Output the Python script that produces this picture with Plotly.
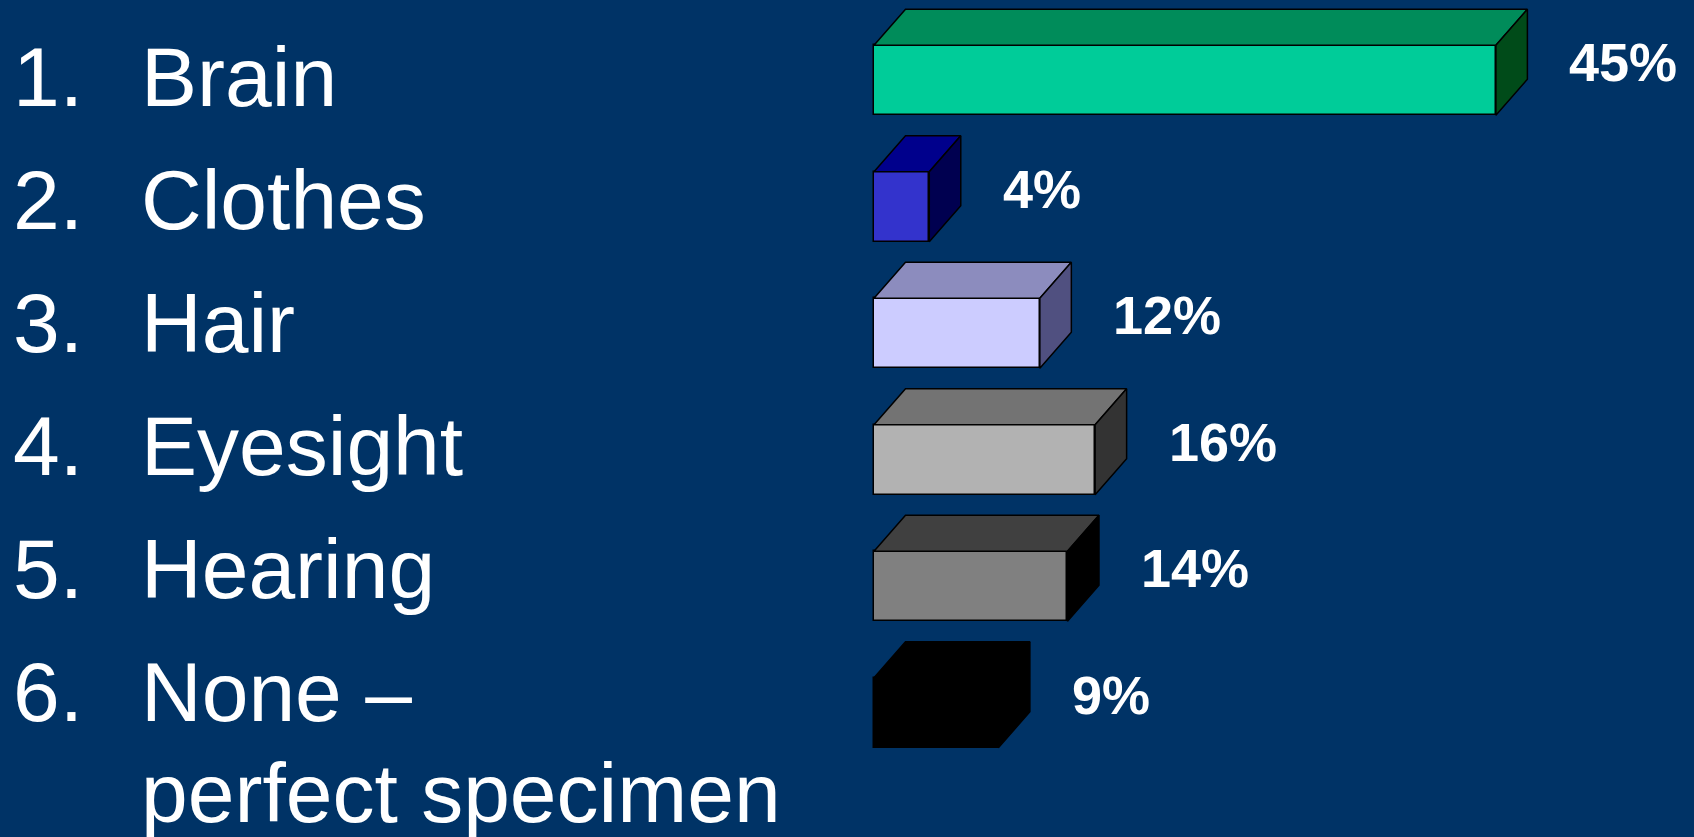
import plotly.graph_objects as go

# ---- data ----
numbers = ["1.", "2.", "3.", "4.", "5.", "6."]
categories = ["Brain", "Clothes", "Hair", "Eyesight", "Hearing", "None –"]
category_continuation = "perfect specimen"
values = [45, 4, 12, 16, 14, 9]
value_labels = ["45%", "4%", "12%", "16%", "14%", "9%"]

# ---- style ----
front_colors = ["#00CC99", "#3333CC", "#CCCCFF", "#B2B2B2", "#808080", "#000000"]
top_colors = ["#008C5A", "#00008C", "#8C8CBE", "#737373", "#404040", "#000000"]
side_colors = ["#004B19", "#000050", "#505080", "#333333", "#000000", "#000000"]
BG = "#003366"
FONT = "Liberation Sans, Arial, sans-serif"

W, H = 1694, 837
x0_px, px_per_unit = 874.0, 13.82
y0_px, px_per_cat = 80.3, 126.5
bar_h = 0.553
depth_dx = 31.5 / px_per_unit
depth_dy = 36.0 / px_per_cat
line_w = 1.5

fig = go.Figure()
idx = list(range(len(values)))

# front faces
fig.add_trace(go.Bar(
    x=values, y=idx, orientation="h", width=bar_h,
    marker=dict(color=front_colors, line=dict(color="#000000", width=line_w)),
    hoverinfo="skip", showlegend=False,
))

# top and side faces
for i, v in enumerate(values):
    yt = i - bar_h / 2
    yb = i + bar_h / 2
    fig.add_trace(go.Scatter(
        x=[0, v, v + depth_dx, depth_dx, 0],
        y=[yt, yt, yt - depth_dy, yt - depth_dy, yt],
        fill="toself", fillcolor=top_colors[i], mode="lines",
        line=dict(color="#000000", width=line_w),
        hoverinfo="skip", showlegend=False,
    ))
    fig.add_trace(go.Scatter(
        x=[v, v + depth_dx, v + depth_dx, v, v],
        y=[yt, yt - depth_dy, yb - depth_dy, yb, yt],
        fill="toself", fillcolor=side_colors[i], mode="lines",
        line=dict(color="#000000", width=line_w),
        hoverinfo="skip", showlegend=False,
    ))

annotations = []
# value labels
for i, (v, lab) in enumerate(zip(values, value_labels)):
    annotations.append(dict(
        x=v + depth_dx, y=i - depth_dy / 2, xref="x", yref="y",
        text=lab, showarrow=False, xanchor="left", yanchor="middle",
        xshift=42, borderpad=0, borderwidth=0,
        font=dict(family=FONT, size=54, color="white", weight="bold"),
    ))

# list text on the left
text_size = 84
cap_centers = [77, 200, 323, 446, 569, 692]
for n, name, yc in zip(numbers, categories, cap_centers):
    annotations.append(dict(
        x=12 / W, y=1 - yc / H, xref="paper", yref="paper", text=n,
        showarrow=False, xanchor="left", yanchor="middle", borderpad=0,
        font=dict(family=FONT, size=text_size, color="white"),
    ))
    annotations.append(dict(
        x=140 / W, y=1 - yc / H, xref="paper", yref="paper", text=name,
        showarrow=False, xanchor="left", yanchor="middle", borderpad=0,
        font=dict(family=FONT, size=text_size, color="white"),
    ))
annotations.append(dict(
    x=140 / W, y=1 - 793 / H, xref="paper", yref="paper",
    text=category_continuation, showarrow=False, xanchor="left",
    yanchor="middle", borderpad=0,
    font=dict(family=FONT, size=text_size, color="white"),
))

x_min = -x0_px / px_per_unit
x_max = (W - x0_px) / px_per_unit
y_top = -y0_px / px_per_cat
y_bot = (H - y0_px) / px_per_cat

fig.update_layout(
    width=W, height=H,
    margin=dict(l=0, r=0, t=0, b=0),
    paper_bgcolor=BG, plot_bgcolor=BG,
    showlegend=False,
    xaxis=dict(range=[x_min, x_max], visible=False, fixedrange=True),
    yaxis=dict(range=[y_bot, y_top], visible=False, fixedrange=True),
    annotations=annotations,
    bargap=0,
)

fig.write_html(
    "out.html",
    config={"displayModeBar": False},
    post_script="document.body.style.margin='0';document.body.style.background='" + BG + "';document.body.style.overflow='hidden';",
)
